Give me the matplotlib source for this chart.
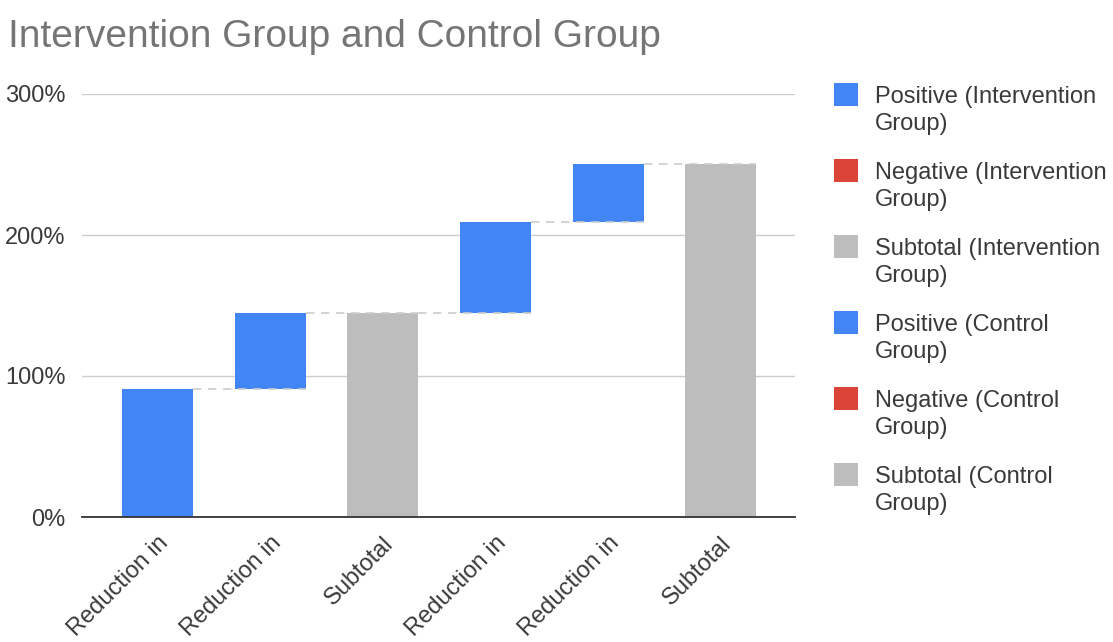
import matplotlib
matplotlib.use("Agg")
import matplotlib.pyplot as plt
from matplotlib.patches import Rectangle
from matplotlib.ticker import FuncFormatter
import numpy as np

plt.rcParams['font.family'] = ['Liberation Sans', 'DejaVu Sans']

# ---- data ----
categories = ["Reduction in", "Reduction in", "Subtotal", "Reduction in", "Reduction in", "Subtotal"]
kinds = ["pos", "pos", "sub", "pos", "pos", "sub"]
changes = [91, 54, 0, 64, 41, 0]          # percent change per step (subtotals carry no change)
legend_labels = ["Positive (Intervention\nGroup)", "Negative (Intervention\nGroup)",
                 "Subtotal (Intervention\nGroup)", "Positive (Control\nGroup)",
                 "Negative (Control\nGroup)", "Subtotal (Control\nGroup)"]
title = "Intervention Group and Control Group"
yticks = [0, 100, 200, 300]

# ---- style ----
BLUE = "#4285F4"
RED = "#DB4437"
GRAY = "#BDBDBD"
legend_colors = [BLUE, RED, GRAY, BLUE, RED, GRAY]
kind_color = {"pos": BLUE, "neg": RED, "sub": GRAY}
TXT = "#3a3a3a"

W, H = 1113, 642
fig = plt.figure(figsize=(W / 100, H / 100), dpi=100)
ax = fig.add_axes([82 / W, (H - 517) / H, 713 / W, 423 / H])

# compute waterfall geometry
bottoms, heights = [], []
running = 0
for k, c in zip(kinds, changes):
    if k == "sub":
        bottoms.append(0)
        heights.append(running)
    else:
        bottoms.append(running)
        heights.append(c)
        running += c

x = np.arange(len(categories))
bw = 0.63
ax.bar(x, heights, bottom=bottoms, width=bw,
       color=[kind_color[k] for k in kinds], zorder=2)

# dashed connectors
for i in range(len(x) - 1):
    level = bottoms[i] + heights[i]
    ax.plot([x[i] + bw / 2, x[i + 1] + bw / 2], [level, level],
            color="#CCCCCC", lw=1.2, ls=(0, (5, 4)), zorder=3)

ax.set_xlim(-0.67, 5.66)
ax.set_ylim(0, 300)
ax.set_yticks(yticks)
ax.yaxis.set_major_formatter(FuncFormatter(lambda v, p: f"{int(v)}%"))
ax.grid(axis="y", color="#CCCCCC", lw=1.0, zorder=0)
ax.set_axisbelow(True)
for s in ["top", "right", "left"]:
    ax.spines[s].set_visible(False)
ax.spines["bottom"].set_color("#333333")
ax.spines["bottom"].set_linewidth(1.3)
ax.spines["bottom"].set_zorder(4)
ax.tick_params(axis="y", length=0, pad=12, labelsize=17, labelcolor=TXT)
ax.tick_params(axis="x", length=0, pad=11, labelsize=17, labelcolor=TXT)
ax.set_xticks(x)
ax.set_xticklabels(categories, rotation=45, ha="right", va="top", rotation_mode="anchor")

# title
fig.text(8 / W, 1 - 47 / H, title, fontsize=28, color="#757575", va="baseline", ha="left")

# legend (manual, first-line aligned squares)
for i, (lab, col) in enumerate(zip(legend_labels, legend_colors)):
    top = 83 + 76 * i
    fig.add_artist(Rectangle((834 / W, 1 - (top + 23) / H), 24 / W, 23 / H,
                             transform=fig.transFigure, color=col, lw=0))
    for j, line in enumerate(lab.split("\n")):
        fig.text(875 / W, 1 - (103 + 76 * i + 27 * j) / H, line, fontsize=17,
                 color=TXT, va="baseline", ha="left")

fig.savefig("out.png", dpi=100)
